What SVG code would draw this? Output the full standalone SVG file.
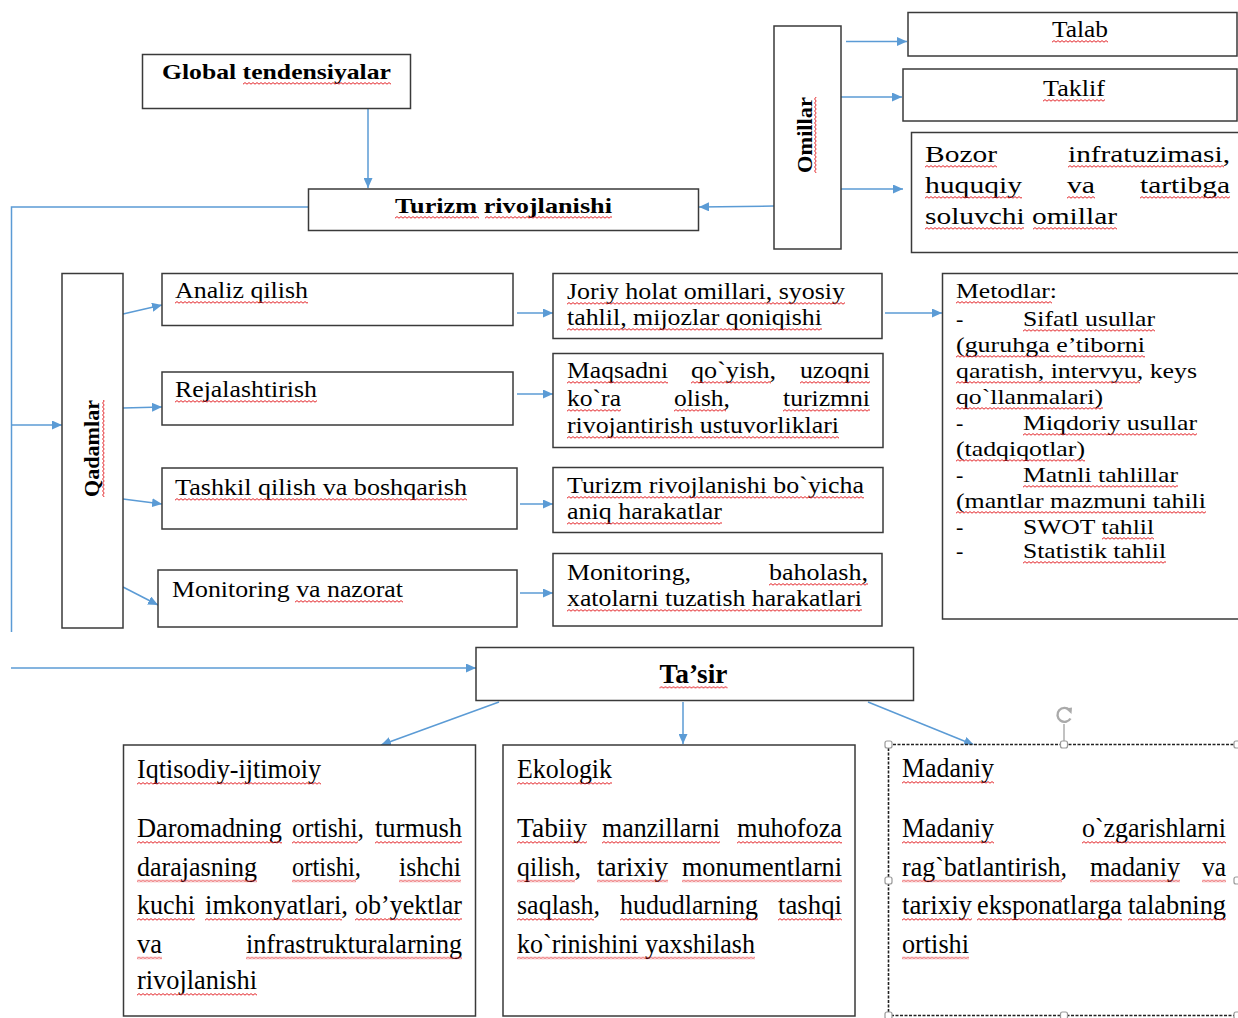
<svg xmlns="http://www.w3.org/2000/svg" width="1238" height="1018" viewBox="0 0 1238 1018">
<style>
.box{fill:#fff;stroke:#3a3a3a;stroke-width:1.5}
.dbox{fill:#fff;stroke:#222;stroke-width:1.6;stroke-dasharray:3 1.5}
.con{fill:none;stroke:#5b9bd5;stroke-width:1.5}
.t{font-family:"Liberation Serif","Times New Roman",serif;fill:#000}
.b{font-weight:bold}
.s22{font-size:22px}
.s23{font-size:23.5px}
.s24{font-size:24px}
.s27{font-size:27.5px}
.sq{fill:url(#sq)}
.hd{fill:#fff;stroke:#999;stroke-width:1.2}
</style>
<defs>
<marker id="ah" markerUnits="userSpaceOnUse" markerWidth="10" markerHeight="9" refX="10" refY="4.5" orient="auto">
<path d="M0,0 L10,4.5 L0,9 z" fill="#5b9bd5"/>
</marker>
<pattern id="sq" patternUnits="userSpaceOnUse" width="4" height="3">
<path d="M0,2.2 L2,0.6 L4,2.2" fill="none" stroke="#e3262a" stroke-width="1"/>
</pattern>
</defs>

<g id="connectors">
<path class="con" d="M368,108 L368,188" marker-end="url(#ah)"/>
<path class="con" d="M308,207 L11.5,207 L11.5,632"/>
<path class="con" d="M11.5,425 L62,425" marker-end="url(#ah)"/>
<path class="con" d="M11,668 L476,668" marker-end="url(#ah)"/>
<path class="con" d="M774,206 L699,207" marker-end="url(#ah)"/>
<path class="con" d="M846,41.5 L907,41.5" marker-end="url(#ah)"/>
<path class="con" d="M841,97 L902,97" marker-end="url(#ah)"/>
<path class="con" d="M841,189 L903,189" marker-end="url(#ah)"/>
<path class="con" d="M123,314 L162,305" marker-end="url(#ah)"/>
<path class="con" d="M123,408 L162,407" marker-end="url(#ah)"/>
<path class="con" d="M123,499 L162,504" marker-end="url(#ah)"/>
<path class="con" d="M123,587 L158,605" marker-end="url(#ah)"/>
<path class="con" d="M517,313 L553,313" marker-end="url(#ah)"/>
<path class="con" d="M517,394 L553,394" marker-end="url(#ah)"/>
<path class="con" d="M520,504 L553,504" marker-end="url(#ah)"/>
<path class="con" d="M520,593 L553,593" marker-end="url(#ah)"/>
<path class="con" d="M885,313 L942,313" marker-end="url(#ah)"/>
<path class="con" d="M499,702 L381,745" marker-end="url(#ah)"/>
<path class="con" d="M683,702 L683,744" marker-end="url(#ah)"/>
<path class="con" d="M868,702 L974,745" marker-end="url(#ah)"/>
</g>

<g id="global">
<rect class="box" x="142.5" y="54.5" width="268" height="54"/>
<text class="t b s22" x="162" y="79" textLength="229" lengthAdjust="spacingAndGlyphs">Global tendensiyalar</text>
<rect class="sq" transform="translate(243,82)" width="148" height="3"/>
</g>

<g id="turizm">
<rect class="box" x="308.5" y="189" width="390" height="41.5"/>
<text class="t b s22" x="395" y="213" textLength="217" lengthAdjust="spacingAndGlyphs">Turizm rivojlanishi</text>
<rect class="sq" transform="translate(395,216)" width="84" height="3"/>
<rect class="sq" transform="translate(485,216)" width="127" height="3"/>
</g>

<g id="omillar">
<rect class="box" x="774" y="26" width="67" height="223"/>
<g transform="translate(812,135) rotate(-90)">
<text class="t b s22" x="-38" y="0" textLength="76" lengthAdjust="spacingAndGlyphs">Omillar</text>
<rect class="sq" transform="translate(-38,2)" width="76" height="3"/>
</g>
</g>

<g id="talab">
<rect class="box" x="908" y="12.5" width="329" height="43.5"/>
<text class="t s23" x="1052" y="37" textLength="56" lengthAdjust="spacingAndGlyphs">Talab</text>
<rect class="sq" transform="translate(1052,40)" width="56" height="3"/>
</g>

<g id="taklif">
<rect class="box" x="903" y="69" width="334" height="52"/>
<text class="t s23" x="1043" y="96" textLength="62" lengthAdjust="spacingAndGlyphs">Taklif</text>
<rect class="sq" transform="translate(1043,99)" width="62" height="3"/>
</g>

<g id="bozor">
<rect class="box" x="911.5" y="132.5" width="340" height="120"/>
<text class="t s24" x="925" y="162" textLength="72" lengthAdjust="spacingAndGlyphs">Bozor</text>
<text class="t s24" x="1068" y="162" textLength="162" lengthAdjust="spacingAndGlyphs">infratuzimasi,</text>
<text class="t s24" x="925" y="193" textLength="97" lengthAdjust="spacingAndGlyphs">huquqiy</text>
<text class="t s24" x="1067" y="193" textLength="28" lengthAdjust="spacingAndGlyphs">va</text>
<text class="t s24" x="1140" y="193" textLength="90" lengthAdjust="spacingAndGlyphs">tartibga</text>
<text class="t s24" x="925" y="224" textLength="192" lengthAdjust="spacingAndGlyphs">soluvchi omillar</text>
<rect class="sq" transform="translate(925,165)" width="72" height="3"/>
<rect class="sq" transform="translate(1068,165)" width="156" height="3"/>
<rect class="sq" transform="translate(925,196)" width="97" height="3"/>
<rect class="sq" transform="translate(1067,196)" width="28" height="3"/>
<rect class="sq" transform="translate(1140,196)" width="90" height="3"/>
<rect class="sq" transform="translate(925,227)" width="99" height="3"/>
<rect class="sq" transform="translate(1033,227)" width="84" height="3"/>
</g>

<g id="qadamlar">
<rect class="box" x="62" y="273.5" width="61" height="354.5"/>
<g transform="translate(99,448.5) rotate(-90)">
<text class="t b s22" x="-48.5" y="0" textLength="97" lengthAdjust="spacingAndGlyphs">Qadamlar</text>
<rect class="sq" transform="translate(-48.5,3)" width="97" height="3"/>
</g>
</g>

<g id="analiz">
<rect class="box" x="162" y="273.5" width="351" height="52"/>
<text class="t s23" x="175" y="298" textLength="133" lengthAdjust="spacingAndGlyphs">Analiz qilish</text>
<rect class="sq" transform="translate(175,301)" width="133" height="3"/>
</g>

<g id="rejalashtirish">
<rect class="box" x="162" y="372" width="351" height="53"/>
<text class="t s23" x="175" y="397" textLength="142" lengthAdjust="spacingAndGlyphs">Rejalashtirish</text>
<rect class="sq" transform="translate(175,400)" width="142" height="3"/>
</g>

<g id="tashkil">
<rect class="box" x="162" y="468" width="355" height="61"/>
<text class="t s23" x="175" y="495" textLength="292" lengthAdjust="spacingAndGlyphs">Tashkil qilish va boshqarish</text>
<rect class="sq" transform="translate(175,498)" width="292" height="3"/>
</g>

<g id="monitoring">
<rect class="box" x="158" y="570" width="359" height="57"/>
<text class="t s23" x="172" y="597" textLength="231" lengthAdjust="spacingAndGlyphs">Monitoring va nazorat</text>
<rect class="sq" transform="translate(295,600)" width="108" height="3"/>
</g>

<g id="joriy">
<rect class="box" x="553" y="273.5" width="329" height="65"/>
<text class="t s23" x="567" y="299" textLength="278" lengthAdjust="spacingAndGlyphs">Joriy holat omillari, syosiy</text>
<text class="t s23" x="567" y="325" textLength="255" lengthAdjust="spacingAndGlyphs">tahlil, mijozlar qoniqishi</text>
<rect class="sq" transform="translate(567,302)" width="278" height="3"/>
<rect class="sq" transform="translate(567,328)" width="255" height="3"/>
</g>

<g id="maqsadni">
<rect class="box" x="553" y="353.5" width="330" height="94"/>
<text class="t s23" x="567" y="378" textLength="101" lengthAdjust="spacingAndGlyphs">Maqsadni</text>
<text class="t s23" x="691" y="378" textLength="85" lengthAdjust="spacingAndGlyphs">qo`yish,</text>
<text class="t s23" x="800" y="378" textLength="70" lengthAdjust="spacingAndGlyphs">uzoqni</text>
<text class="t s23" x="567" y="406" textLength="54" lengthAdjust="spacingAndGlyphs">ko`ra</text>
<text class="t s23" x="674" y="406" textLength="56" lengthAdjust="spacingAndGlyphs">olish,</text>
<text class="t s23" x="783" y="406" textLength="87" lengthAdjust="spacingAndGlyphs">turizmni</text>
<text class="t s23" x="567" y="433" textLength="272" lengthAdjust="spacingAndGlyphs">rivojantirish ustuvorliklari</text>
<rect class="sq" transform="translate(567,381)" width="101" height="3"/>
<rect class="sq" transform="translate(691,381)" width="80" height="3"/>
<rect class="sq" transform="translate(800,381)" width="70" height="3"/>
<rect class="sq" transform="translate(567,409)" width="54" height="3"/>
<rect class="sq" transform="translate(674,409)" width="52" height="3"/>
<rect class="sq" transform="translate(783,409)" width="87" height="3"/>
<rect class="sq" transform="translate(567,436)" width="272" height="3"/>
</g>

<g id="harakatlar">
<rect class="box" x="553" y="467.5" width="330" height="65"/>
<text class="t s23" x="567" y="493" textLength="297" lengthAdjust="spacingAndGlyphs">Turizm rivojlanishi bo`yicha</text>
<text class="t s23" x="567" y="519" textLength="155" lengthAdjust="spacingAndGlyphs">aniq harakatlar</text>
<rect class="sq" transform="translate(567,496)" width="297" height="3"/>
<rect class="sq" transform="translate(567,522)" width="155" height="3"/>
</g>

<g id="baholash">
<rect class="box" x="553" y="553.5" width="329" height="72.5"/>
<text class="t s23" x="567" y="580" textLength="124" lengthAdjust="spacingAndGlyphs">Monitoring,</text>
<text class="t s23" x="769" y="580" textLength="99" lengthAdjust="spacingAndGlyphs">baholash,</text>
<text class="t s23" x="567" y="606" textLength="295" lengthAdjust="spacingAndGlyphs">xatolarni tuzatish harakatlari</text>
<rect class="sq" transform="translate(769,583)" width="99" height="3"/>
<rect class="sq" transform="translate(567,609)" width="295" height="3"/>
</g>

<g id="metodlar">
<rect class="box" x="942.5" y="273.5" width="310" height="345.5"/>
<text class="t s22" x="956" y="298" textLength="101" lengthAdjust="spacingAndGlyphs">Metodlar:</text>
<text class="t s22" x="956" y="326">-</text>
<text class="t s22" x="1023" y="326" textLength="132" lengthAdjust="spacingAndGlyphs">Sifatl usullar</text>
<text class="t s22" x="956" y="352" textLength="189" lengthAdjust="spacingAndGlyphs">(guruhga e’tiborni</text>
<text class="t s22" x="956" y="378" textLength="241" lengthAdjust="spacingAndGlyphs">qaratish, intervyu, keys</text>
<text class="t s22" x="956" y="404" textLength="147" lengthAdjust="spacingAndGlyphs">qo`llanmalari)</text>
<text class="t s22" x="956" y="430">-</text>
<text class="t s22" x="1023" y="430" textLength="174" lengthAdjust="spacingAndGlyphs">Miqdoriy usullar</text>
<text class="t s22" x="956" y="456" textLength="129" lengthAdjust="spacingAndGlyphs">(tadqiqotlar)</text>
<text class="t s22" x="956" y="482">-</text>
<text class="t s22" x="1023" y="482" textLength="155" lengthAdjust="spacingAndGlyphs">Matnli tahlillar</text>
<text class="t s22" x="956" y="508" textLength="250" lengthAdjust="spacingAndGlyphs">(mantlar mazmuni tahili</text>
<text class="t s22" x="956" y="534">-</text>
<text class="t s22" x="1023" y="534" textLength="131" lengthAdjust="spacingAndGlyphs">SWOT tahlil</text>
<text class="t s22" x="956" y="558">-</text>
<text class="t s22" x="1023" y="558" textLength="143" lengthAdjust="spacingAndGlyphs">Statistik tahlil</text>
<rect class="sq" transform="translate(956,301)" width="96" height="3"/>
<rect class="sq" transform="translate(1023,329)" width="132" height="3"/>
<rect class="sq" transform="translate(956,355)" width="189" height="3"/>
<rect class="sq" transform="translate(956,381)" width="184" height="3"/>
<rect class="sq" transform="translate(956,407)" width="147" height="3"/>
<rect class="sq" transform="translate(1023,433)" width="174" height="3"/>
<rect class="sq" transform="translate(956,459)" width="129" height="3"/>
<rect class="sq" transform="translate(1023,485)" width="155" height="3"/>
<rect class="sq" transform="translate(956,511)" width="250" height="3"/>
<rect class="sq" transform="translate(1102,537)" width="52" height="3"/>
<rect class="sq" transform="translate(1023,561)" width="143" height="3"/>
</g>

<g id="tasir">
<rect class="box" x="476" y="647.5" width="437.5" height="53"/>
<text class="t b s27" x="659.5" y="683" textLength="68" lengthAdjust="spacingAndGlyphs">Ta’sir</text>
<rect class="sq" transform="translate(659.5,686)" width="68" height="3"/>
</g>

<g id="iqtisodiy">
<rect class="box" x="123.5" y="745" width="352" height="271"/>
<text class="t s27" x="137" y="778" textLength="184" lengthAdjust="spacingAndGlyphs">Iqtisodiy-ijtimoiy</text>
<text class="t s27" x="137" y="837" textLength="145" lengthAdjust="spacingAndGlyphs">Daromadning</text>
<text class="t s27" x="292" y="837" textLength="72" lengthAdjust="spacingAndGlyphs">ortishi,</text>
<text class="t s27" x="375" y="837" textLength="87" lengthAdjust="spacingAndGlyphs">turmush</text>
<text class="t s27" x="137" y="875.5" textLength="120" lengthAdjust="spacingAndGlyphs">darajasning</text>
<text class="t s27" x="292" y="875.5" textLength="69" lengthAdjust="spacingAndGlyphs">ortishi,</text>
<text class="t s27" x="399" y="875.5" textLength="62" lengthAdjust="spacingAndGlyphs">ishchi</text>
<text class="t s27" x="137" y="914" textLength="58" lengthAdjust="spacingAndGlyphs">kuchi</text>
<text class="t s27" x="205" y="914" textLength="143" lengthAdjust="spacingAndGlyphs">imkonyatlari,</text>
<text class="t s27" x="355" y="914" textLength="107" lengthAdjust="spacingAndGlyphs">ob’yektlar</text>
<text class="t s27" x="137" y="952.5" textLength="25" lengthAdjust="spacingAndGlyphs">va</text>
<text class="t s27" x="246" y="952.5" textLength="216" lengthAdjust="spacingAndGlyphs">infrastrukturalarning</text>
<text class="t s27" x="137" y="989" textLength="120" lengthAdjust="spacingAndGlyphs">rivojlanishi</text>
<rect class="sq" transform="translate(137,782)" width="184" height="3"/>
<rect class="sq" transform="translate(137,841)" width="145" height="3"/>
<rect class="sq" transform="translate(292,841)" width="66" height="3"/>
<rect class="sq" transform="translate(375,841)" width="87" height="3"/>
<rect class="sq" transform="translate(137,879.5)" width="120" height="3"/>
<rect class="sq" transform="translate(292,879.5)" width="64" height="3"/>
<rect class="sq" transform="translate(399,879.5)" width="62" height="3"/>
<rect class="sq" transform="translate(137,918)" width="58" height="3"/>
<rect class="sq" transform="translate(205,918)" width="137" height="3"/>
<rect class="sq" transform="translate(355,918)" width="107" height="3"/>
<rect class="sq" transform="translate(137,956.5)" width="25" height="3"/>
<rect class="sq" transform="translate(246,956.5)" width="216" height="3"/>
<rect class="sq" transform="translate(137,993)" width="120" height="3"/>
</g>

<g id="ekologik">
<rect class="box" x="503" y="745" width="352" height="271"/>
<text class="t s27" x="517" y="778" textLength="95" lengthAdjust="spacingAndGlyphs">Ekologik</text>
<text class="t s27" x="517" y="837" textLength="70" lengthAdjust="spacingAndGlyphs">Tabiiy</text>
<text class="t s27" x="602" y="837" textLength="118" lengthAdjust="spacingAndGlyphs">manzillarni</text>
<text class="t s27" x="737" y="837" textLength="105" lengthAdjust="spacingAndGlyphs">muhofoza</text>
<text class="t s27" x="517" y="875.5" textLength="64" lengthAdjust="spacingAndGlyphs">qilish,</text>
<text class="t s27" x="597" y="875.5" textLength="71" lengthAdjust="spacingAndGlyphs">tarixiy</text>
<text class="t s27" x="682" y="875.5" textLength="160" lengthAdjust="spacingAndGlyphs">monumentlarni</text>
<text class="t s27" x="517" y="914" textLength="83" lengthAdjust="spacingAndGlyphs">saqlash,</text>
<text class="t s27" x="620" y="914" textLength="138" lengthAdjust="spacingAndGlyphs">hududlarning</text>
<text class="t s27" x="778" y="914" textLength="64" lengthAdjust="spacingAndGlyphs">tashqi</text>
<text class="t s27" x="517" y="952.5" textLength="238" lengthAdjust="spacingAndGlyphs">ko`rinishini yaxshilash</text>
<rect class="sq" transform="translate(517,782)" width="95" height="3"/>
<rect class="sq" transform="translate(517,841)" width="70" height="3"/>
<rect class="sq" transform="translate(602,841)" width="118" height="3"/>
<rect class="sq" transform="translate(737,841)" width="105" height="3"/>
<rect class="sq" transform="translate(517,879.5)" width="58" height="3"/>
<rect class="sq" transform="translate(597,879.5)" width="71" height="3"/>
<rect class="sq" transform="translate(682,879.5)" width="160" height="3"/>
<rect class="sq" transform="translate(517,918)" width="77" height="3"/>
<rect class="sq" transform="translate(620,918)" width="138" height="3"/>
<rect class="sq" transform="translate(778,918)" width="64" height="3"/>
<rect class="sq" transform="translate(517,956.5)" width="238" height="3"/>
</g>

<g id="madaniy">
<rect class="dbox" x="888.5" y="744.5" width="360" height="271"/>
<text class="t s27" x="902" y="777" textLength="92" lengthAdjust="spacingAndGlyphs">Madaniy</text>
<text class="t s27" x="902" y="837" textLength="92" lengthAdjust="spacingAndGlyphs">Madaniy</text>
<text class="t s27" x="1082" y="837" textLength="144" lengthAdjust="spacingAndGlyphs">o`zgarishlarni</text>
<text class="t s27" x="902" y="875.5" textLength="165" lengthAdjust="spacingAndGlyphs">rag`batlantirish,</text>
<text class="t s27" x="1090" y="875.5" textLength="90" lengthAdjust="spacingAndGlyphs">madaniy</text>
<text class="t s27" x="1202" y="875.5" textLength="24" lengthAdjust="spacingAndGlyphs">va</text>
<text class="t s27" x="902" y="914" textLength="70" lengthAdjust="spacingAndGlyphs">tarixiy</text>
<text class="t s27" x="977" y="914" textLength="145" lengthAdjust="spacingAndGlyphs">eksponatlarga</text>
<text class="t s27" x="1128" y="914" textLength="98" lengthAdjust="spacingAndGlyphs">talabning</text>
<text class="t s27" x="902" y="952.5" textLength="67" lengthAdjust="spacingAndGlyphs">ortishi</text>
<rect class="sq" transform="translate(902,781)" width="92" height="3"/>
<rect class="sq" transform="translate(902,841)" width="92" height="3"/>
<rect class="sq" transform="translate(1082,841)" width="144" height="3"/>
<rect class="sq" transform="translate(902,879.5)" width="160" height="3"/>
<rect class="sq" transform="translate(1090,879.5)" width="90" height="3"/>
<rect class="sq" transform="translate(1202,879.5)" width="24" height="3"/>
<rect class="sq" transform="translate(902,918)" width="70" height="3"/>
<rect class="sq" transform="translate(977,918)" width="145" height="3"/>
<rect class="sq" transform="translate(1128,918)" width="98" height="3"/>
<rect class="sq" transform="translate(902,956.5)" width="67" height="3"/>
<g id="selection-handles">
<line x1="1064" y1="744" x2="1064" y2="724" stroke="#999" stroke-width="1.2"/>
<path d="M1069.5,710 A7,7 0 1 0 1070.5,718.5" fill="none" stroke="#aaa" stroke-width="2.4"/>
<path d="M1065.5,708.5 L1072,707.5 L1071.5,714 z" fill="#aaa"/>
<rect class="hd" x="885" y="741" width="7" height="7" rx="2"/>
<rect class="hd" x="1060.5" y="741" width="7" height="7" rx="2"/>
<rect class="hd" x="1234" y="741" width="7" height="7" rx="2"/>
<rect class="hd" x="885" y="877" width="7" height="7" rx="2"/>
<rect class="hd" x="1234" y="877" width="7" height="7" rx="2"/>
<rect class="hd" x="885" y="1012" width="7" height="7" rx="2"/>
<rect class="hd" x="1060.5" y="1012" width="7" height="7" rx="2"/>
<rect class="hd" x="1234" y="1012" width="7" height="7" rx="2"/>
</g>
</g>
</svg>
